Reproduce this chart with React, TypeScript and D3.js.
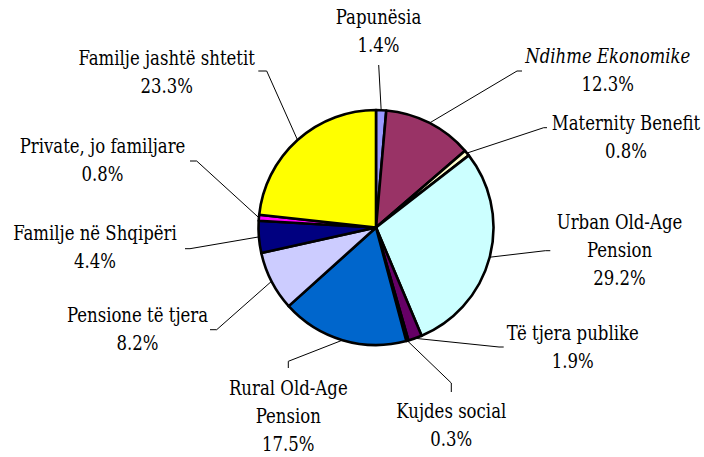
import React from "react";
import * as d3 from "d3";

const categories = [
  "Papunësia",
  "Ndihme Ekonomike",
  "Maternity Benefit",
  "Urban Old-Age Pension",
  "Të tjera publike",
  "Kujdes social",
  "Rural Old-Age Pension",
  "Pensione të tjera",
  "Familje në Shqipëri",
  "Private, jo familjare",
  "Familje jashtë shtetit",
];
const values = [1.4, 12.3, 0.8, 29.2, 1.9, 0.3, 17.5, 8.2, 4.4, 0.8, 23.3];
const labelLines = [
  ["Papunësia"],
  ["Ndihme Ekonomike"],
  ["Maternity Benefit"],
  ["Urban Old-Age", "Pension"],
  ["Të tjera publike"],
  ["Kujdes social"],
  ["Rural Old-Age", "Pension"],
  ["Pensione të tjera"],
  ["Familje në Shqipëri"],
  ["Private, jo familjare"],
  ["Familje jashtë shtetit"],
];
const colors = [
  "#9999FF", "#993366", "#FFFFCC", "#CCFFFF", "#660066", "#FF8080",
  "#0066CC", "#CCCCFF", "#000080", "#FF00FF", "#FFFF00",
];

// layout: label center x, first baseline y, leader anchor and elbow
const labelLayout = [
  { x: 378.5, y: 24, ax: 378.7, ay: 65, ex: 378.7, ey: 65 },
  { x: 607.8, y: 63.5, ax: 522, ay: 71, ex: 517, ey: 71 },
  { x: 626, y: 130, ax: 547, ay: 127.7, ex: 543.7, ey: 127.7 },
  { x: 619.5, y: 229.5, ax: 550.3, ay: 250.7, ex: 545.3, ey: 250.7 },
  { x: 572.8, y: 339.7, ax: 503.7, ay: 347, ex: 499, ey: 347 },
  { x: 451.3, y: 418, ax: 451.3, ay: 392, ex: 451.3, ey: 383 },
  { x: 288.3, y: 394.7, ax: 288.3, ay: 368, ex: 288.3, ey: 361.3 },
  { x: 137.5, y: 322, ax: 210, ay: 329.7, ex: 216.7, ey: 329.7 },
  { x: 95, y: 239.7, ax: 185, ay: 248.7, ex: 190, ey: 248.7 },
  { x: 102.5, y: 153.3, ax: 190, ay: 161, ex: 196.7, ey: 161 },
  { x: 166.7, y: 65, ax: 258.3, ay: 71, ex: 266.7, ey: 71 },
];

const W = 704;
const H = 457;
const cx = 376;
const cy = 227.5;
const R = 117.5;
const fontSize = 20;
const lineH = 28;
const squeeze = 0.92;

export default function App() {
  const data = categories.map((c, i) => ({ c, v: values[i], i }));
  const pie = d3.pie<any>().value((d) => d.v).sort(null);
  const arcs = pie(data);
  const arc = d3.arc<any>().innerRadius(0).outerRadius(R);

  return (
    <svg
      width={W}
      height={H}
      style={{
        position: "fixed",
        left: 0,
        top: 0,
        background: "#fff",
        fontFamily: "'DejaVu Serif Condensed', 'DejaVu Serif', serif",
        fontStretch: "condensed",
        fontSize: fontSize,
      }}
    >
      <rect width={W} height={H} fill="#fff" />
      <g transform={`translate(${cx},${cy})`}>
        {arcs.map((a, i) => (
          <path
            key={i}
            d={arc(a) || ""}
            fill={colors[i]}
            stroke="#000"
            strokeWidth={2.6}
            strokeLinejoin="round"
          />
        ))}
      </g>
      {arcs.map((a, i) => {
        const mid = (a.startAngle + a.endAngle) / 2;
        const px = cx + R * Math.sin(mid);
        const py = cy - R * Math.cos(mid);
        const L = labelLayout[i];
        return (
          <polyline
            key={"l" + i}
            points={`${L.ax},${L.ay} ${L.ex},${L.ey} ${px},${py}`}
            fill="none"
            stroke="#000"
            strokeWidth={1}
          />
        );
      })}
      {arcs.map((a, i) => {
        const L = labelLayout[i];
        const lines = [...labelLines[i], `${values[i].toFixed(1)}%`];
        return (
          <text
            key={"t" + i}
            textAnchor="middle"
            fill="#000"
            transform={`translate(${L.x},0) scale(${squeeze},1) translate(${-L.x},0)`}
            style={{ fontStyle: i === 1 ? "italic" : "normal" }}
          >
            {lines.map((t, k) => (
              <tspan
                key={k}
                x={L.x}
                y={L.y + k * lineH}
                style={i === 1 && k > 0 ? { fontStyle: "normal" } : undefined}
              >
                {t}
              </tspan>
            ))}
          </text>
        );
      })}
    </svg>
  );
}
